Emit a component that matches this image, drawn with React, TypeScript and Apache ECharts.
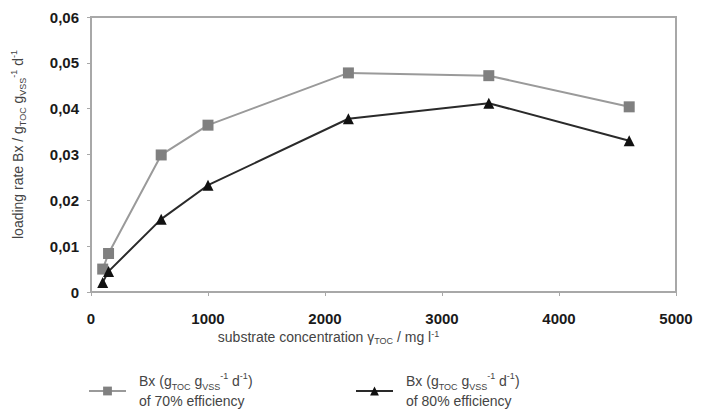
import React, { useEffect, useRef } from "react";
import * as echarts from "echarts";

const concentrations = [100, 150, 600, 1000, 2200, 3400, 4600];
const eff70 = [0.005, 0.0084, 0.0299, 0.0364, 0.0478, 0.0472, 0.0404];
const eff80 = [0.0021, 0.0045, 0.0159, 0.0233, 0.0378, 0.0412, 0.0330];
const seriesNames = ["70%", "80%"];

const FONT = "Liberation Sans, Arial, sans-serif";

const richStyles = {
  sub: { fontSize: 9, verticalAlign: "bottom", lineHeight: 9, fontFamily: FONT, color: "#444" },
  sup: { fontSize: 9, verticalAlign: "top", lineHeight: 9, fontFamily: FONT, color: "#444" },
};

export default function App() {
  const ref = useRef<HTMLDivElement>(null);
  useEffect(() => {
    if (!ref.current) return;
    const chart = echarts.init(ref.current, undefined, { renderer: "svg" });
    const legendFmt = (name: string) =>
      "Bx (g{sub|TOC} g{sub|VSS}{sup|-1} d{sup|-1})\nof " + name + " efficiency";
    const legendText = {
      fontFamily: FONT,
      fontSize: 14,
      color: "#444",
      lineHeight: 20,
      padding: [0, 0, 0, 8],
      rich: richStyles,
    };
    chart.setOption({
      animation: false,
      backgroundColor: "#fff",
      grid: {
        left: 91,
        right: 36,
        top: 17,
        bottom: 124,
        show: true,
        borderColor: "#a8a8a8",
        borderWidth: 2,
        backgroundColor: "transparent",
      },
      xAxis: {
        type: "value",
        min: 0,
        max: 5000,
        interval: 1000,
        name: "substrate concentration γ{sub|TOC} / mg l{sup|-1}",
        nameLocation: "middle",
        nameGap: 37,
        nameMoveOverlap: false,
        nameTextStyle: {
          fontFamily: FONT,
          fontSize: 14,
          color: "#444",
          lineHeight: 16,
          padding: [0, 110, 0, 0],
          rich: richStyles,
        },
        axisLine: { show: true, lineStyle: { color: "#a8a8a8", width: 2 } },
        axisTick: { show: true, length: 4, lineStyle: { color: "#a8a8a8" } },
        axisLabel: {
          fontFamily: FONT,
          fontSize: 15,
          fontWeight: "bold",
          color: "#1a1a1a",
          margin: 19,
          formatter: (v: number) => String(v),
        },
        splitLine: { show: false },
      },
      yAxis: {
        type: "value",
        min: 0,
        max: 0.06,
        interval: 0.01,
        name: "loading rate Bx / g{sub|TOC} g{sub|VSS}{sup|-1} d{sup|-1}",
        nameLocation: "middle",
        nameGap: 64,
        nameMoveOverlap: false,
        nameTextStyle: {
          fontFamily: FONT,
          fontSize: 14,
          color: "#444",
          lineHeight: 18,
          padding: [0, 0, 0, 20],
          rich: richStyles,
        },
        axisLine: { show: true, lineStyle: { color: "#a8a8a8", width: 2 } },
        axisTick: { show: true, length: 4, lineStyle: { color: "#a8a8a8" } },
        axisLabel: {
          fontFamily: FONT,
          fontSize: 15,
          fontWeight: "bold",
          color: "#1a1a1a",
          margin: 12,
          formatter: (v: number) => (v === 0 ? "0" : v.toFixed(2).replace(".", ",")),
        },
        splitLine: { show: false },
      },
      legend: [
        {
          data: [seriesNames[0]],
          left: 83,
          top: 366,
          itemWidth: 37,
          itemHeight: 11,
          formatter: legendFmt,
          textStyle: legendText,
        },
        {
          data: [seriesNames[1]],
          left: 350,
          top: 366,
          itemWidth: 37,
          itemHeight: 11,
          formatter: legendFmt,
          textStyle: legendText,
        },
      ],
      series: [
        {
          name: seriesNames[0],
          type: "line",
          data: concentrations.map((c, i) => [c, eff70[i]]),
          symbol: "rect",
          symbolSize: 11,
          lineStyle: { color: "#9a9a9a", width: 2 },
          itemStyle: { color: "#808080" },
          z: 2,
        },
        {
          name: seriesNames[1],
          type: "line",
          data: concentrations.map((c, i) => [c, eff80[i]]),
          symbol: "triangle",
          symbolSize: 11,
          lineStyle: { color: "#2a2a2a", width: 2 },
          itemStyle: { color: "#111" },
          z: 3,
        },
      ],
    });
    return () => chart.dispose();
  }, []);
  return <div ref={ref} style={{ width: 712, height: 416, position: "absolute", left: 0, top: 0 }} />;
}
